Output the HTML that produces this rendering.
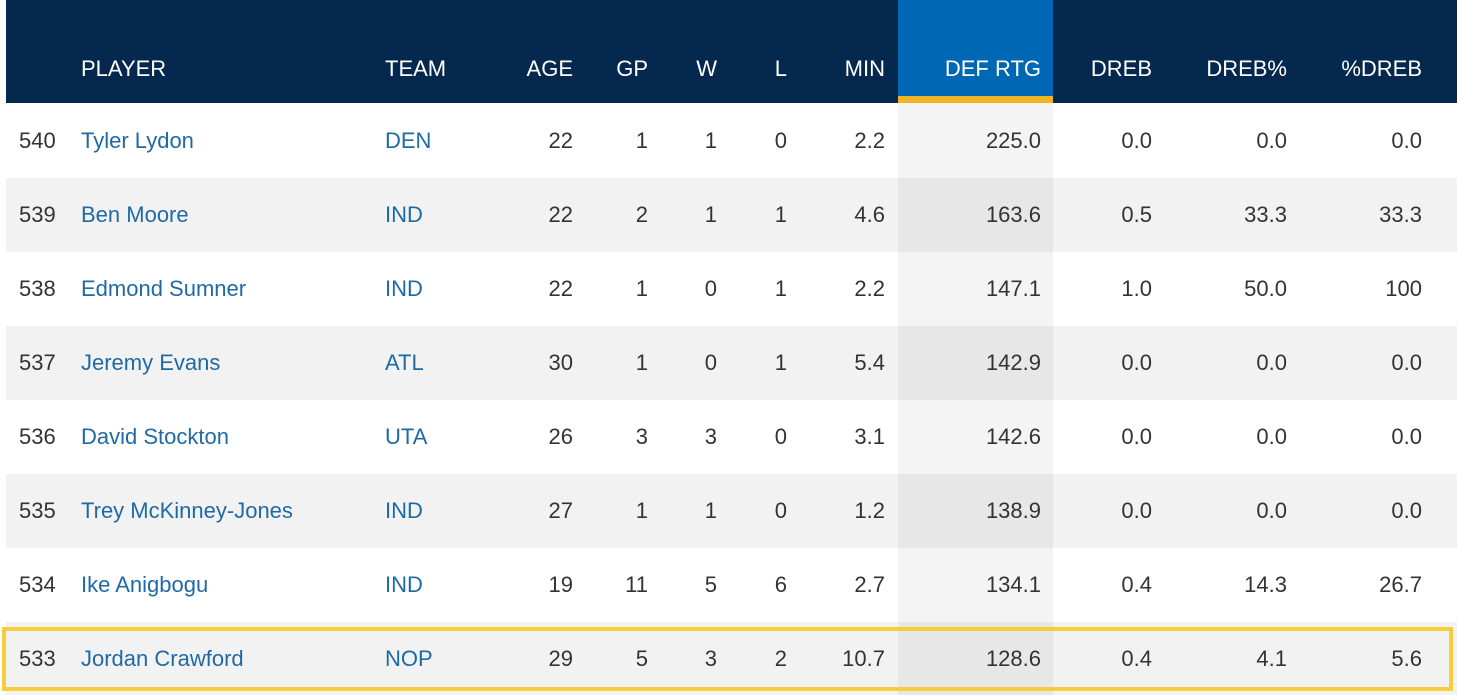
<!DOCTYPE html>
<html><head><style>
body{margin:0;width:1457px;height:695px;background:#fff;position:relative;overflow:hidden;font-family:"Liberation Sans Narrow","Liberation Sans",sans-serif;font-size:22px;color:#333}
.hdr{position:absolute;left:6px;top:0;width:1451px;height:103px;background:#04284e}
.hl{position:absolute;left:898px;top:0;width:155px;height:96px;background:#0067b4}
.hy{position:absolute;left:898px;top:96px;width:155px;height:7px;background:#f0b323}
.row{position:absolute;left:6px;width:1451px;height:74px}
.g{background:#f2f2f2}
.dc{position:absolute;left:898px;top:103px;width:155px;height:592px;background:rgba(0,0,0,0.045)}
.t{position:absolute;white-space:nowrap;line-height:30px}
.h{color:#fff;top:54px}
.n{color:#1f6aa5}
.box{position:absolute;left:2px;top:627px;width:1443px;height:56px;border:4px solid #f7cd3c}
</style></head><body>
<div class="hdr"></div><div class="hl"></div><div class="hy"></div>
<div class="row" style="top:103px"></div>
<div class="row g" style="top:178px"></div>
<div class="row" style="top:252px"></div>
<div class="row g" style="top:326px"></div>
<div class="row" style="top:400px"></div>
<div class="row g" style="top:474px"></div>
<div class="row" style="top:548px"></div>
<div class="row g" style="top:622px;height:73px"></div>
<div class="dc"></div>
<div class="box"></div>
<div id="c"></div>
<script>
var H=[["PLAYER",81,0],["TEAM",385,0],["AGE",573,1],["GP",648,1],["W",717,1],["L",787,1],["MIN",885,1],["DEF RTG",1041,1],["DREB",1152,1],["DREB%",1287,1],["%DREB",1422,1]];
var D=[["540","Tyler Lydon","DEN","22","1","1","0","2.2","225.0","0.0","0.0","0.0"],
["539","Ben Moore","IND","22","2","1","1","4.6","163.6","0.5","33.3","33.3"],
["538","Edmond Sumner","IND","22","1","0","1","2.2","147.1","1.0","50.0","100"],
["537","Jeremy Evans","ATL","30","1","0","1","5.4","142.9","0.0","0.0","0.0"],
["536","David Stockton","UTA","26","3","3","0","3.1","142.6","0.0","0.0","0.0"],
["535","Trey McKinney-Jones","IND","27","1","1","0","1.2","138.9","0.0","0.0","0.0"],
["534","Ike Anigbogu","IND","19","11","5","6","2.7","134.1","0.4","14.3","26.7"],
["533","Jordan Crawford","NOP","29","5","3","2","10.7","128.6","0.4","4.1","5.6"]];
var s="";
H.forEach(function(h){s+=h[2]?'<div class="t h" style="right:'+(1457-h[1])+'px">'+h[0]+'</div>':'<div class="t h" style="left:'+h[1]+'px">'+h[0]+'</div>';});
D.forEach(function(d,i){var y=126+i*74;
s+='<div class="t" style="left:19px;top:'+y+'px">'+d[0]+'</div>';
s+='<div class="t n" style="left:81px;top:'+y+'px">'+d[1]+'</div>';
s+='<div class="t n" style="left:385px;top:'+y+'px">'+d[2]+'</div>';
for(var k=3;k<12;k++)s+='<div class="t" style="right:'+(1457-H[k-1][1])+'px;top:'+y+'px">'+d[k]+'</div>';});
document.getElementById("c").innerHTML=s;
</script>
</body></html>
